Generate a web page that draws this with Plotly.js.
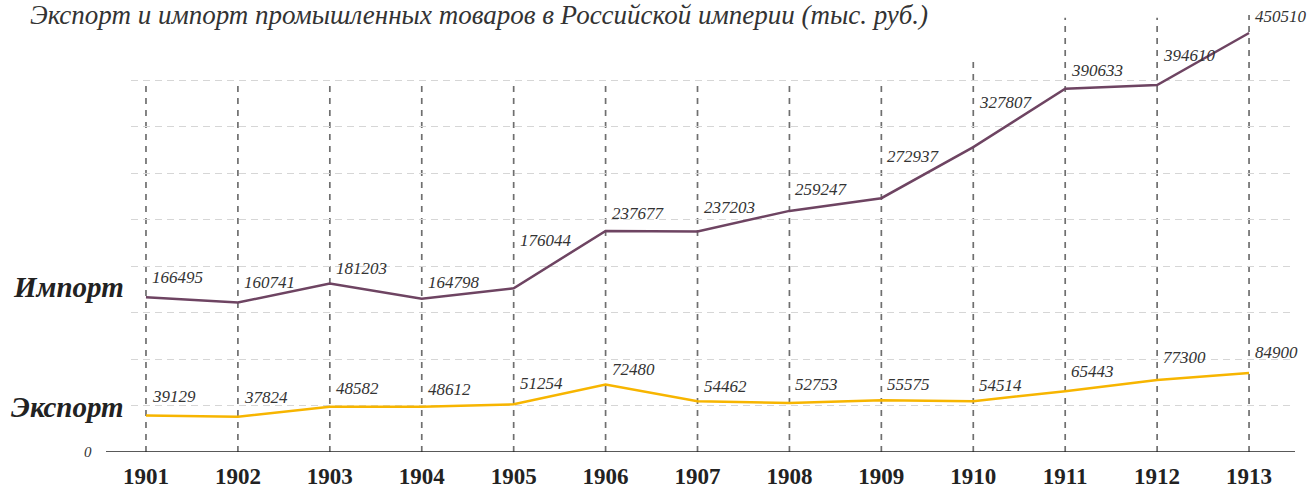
<!DOCTYPE html>
<html>
<head>
<meta charset="utf-8">
<script src="https://cdn.plot.ly/plotly-3.0.1.min.js"></script>
<style>html,body{margin:0;padding:0;background:#fff;}#chart{width:1308px;height:488px;}</style>
</head>
<body>
<div id="chart"></div>
<script>
const years = [1901,1902,1903,1904,1905,1906,1907,1908,1909,1910,1911,1912,1913];
const importValues = [166495,160741,181203,164798,176044,237677,237203,259247,272937,327807,390633,394610,450510];
const exportValues = [39129,37824,48582,48612,51254,72480,54462,52753,55575,54514,65443,77300,84900];
const seriesNames = ['Импорт','Экспорт'];
const titleText = 'Экспорт и импорт промышленных товаров в Российской империи (тыс. руб.)';
const gridValues = [0,50000,100000,150000,200000,250000,300000,350000,400000];

// label vertical offsets (px) as in the reference layout
const importLabelShift = [20,20,15,16,48,17,24,21,42,45,18,30,17];
const exportLabelShift = [19,19,18,17,21,15,15,18,16,16,20,23,21];
// top ends of the vertical drop lines
const dropTop = [400000,400000,400000,400000,400000,400000,400000,400000,398000,422000,467000,467000,470000];

const serif = 'Liberation Serif, DejaVu Serif, serif';
const IMP = '#6e4462', EXP = '#f7b500';

const traces = [
  {x: years, y: importValues, name: seriesNames[0], mode: 'lines', line: {color: IMP, width: 2.5}, hoverinfo: 'x+y'},
  {x: years, y: exportValues, name: seriesNames[1], mode: 'lines', line: {color: EXP, width: 2.5}, hoverinfo: 'x+y'}
];

const shapes = [];
years.forEach((yr, i) => {
  shapes.push({type: 'line', xref: 'x', yref: 'y', x0: yr, x1: yr, y0: 0, y1: dropTop[i],
    line: {color: '#6f6f6f', width: 1.7, dash: '6px,6px'}, layer: 'below'});
});
shapes.push({type: 'line', xref: 'paper', yref: 'y', x0: -25/1164, x1: 1, y0: 0, y1: 0,
  line: {color: '#222', width: 1.5}});

const annotations = [];
years.forEach((yr, i) => {
  annotations.push({x: yr, y: importValues[i], xref: 'x', yref: 'y', text: String(importValues[i]),
    showarrow: false, xanchor: 'left', yanchor: 'middle', xshift: 4, yshift: importLabelShift[i],
    font: {family: serif, size: 17, color: '#333', style: 'italic'}});
  annotations.push({x: yr, y: exportValues[i], xref: 'x', yref: 'y', text: String(exportValues[i]),
    showarrow: false, xanchor: 'left', yanchor: 'middle', xshift: 4, yshift: exportLabelShift[i],
    font: {family: serif, size: 17, color: '#333', style: 'italic'}});
});
annotations.push({x: 0, y: importValues[0], xref: 'paper', yref: 'y', xanchor: 'right', yanchor: 'middle',
  xshift: -5, yshift: 10, showarrow: false, text: '<b><i>' + seriesNames[0] + '</i></b>',
  font: {family: serif, size: 29, color: '#222'}});
annotations.push({x: 0, y: exportValues[0], xref: 'paper', yref: 'y', xanchor: 'right', yanchor: 'middle',
  xshift: -5, yshift: 9, showarrow: false, text: '<b><i>' + seriesNames[1] + '</i></b>',
  font: {family: serif, size: 29, color: '#222'}});
annotations.push({x: 0, y: 0, xref: 'paper', yref: 'y', xanchor: 'right', yanchor: 'middle',
  xshift: -37, showarrow: false, text: '<i>0</i>', font: {family: serif, size: 15, color: '#333'}});
annotations.push({x: 799/1164, y: 1, xref: 'paper', yref: 'paper', xanchor: 'right', yanchor: 'middle',
  yshift: -5, showarrow: false, text: '<i>' + titleText + '</i>', font: {family: serif, size: 27, color: '#333'}});

const layout = {
  width: 1308, height: 488,
  margin: {l: 131, r: 13, t: 10, b: 36},
  paper_bgcolor: '#fff', plot_bgcolor: '#fff',
  showlegend: false,
  xaxis: {range: [1900.837, 1913.5], tickvals: years, ticktext: years.map(String), showgrid: false, zeroline: false,
    showline: false, ticks: '', tickfont: {family: serif, size: 23, color: '#222', weight: 'bold'}, ticklabelstandoff: 8},
  yaxis: {range: [0, 475270], tickvals: gridValues, ticktext: gridValues.map(() => ''), showgrid: true,
    gridcolor: '#d6d6d6', gridwidth: 1, griddash: '7px,5px', zeroline: false, showline: false, ticks: ''},
  shapes: shapes,
  annotations: annotations
};

Plotly.newPlot('chart', traces, layout, {displayModeBar: false, staticPlot: true});
</script>
</body>
</html>
